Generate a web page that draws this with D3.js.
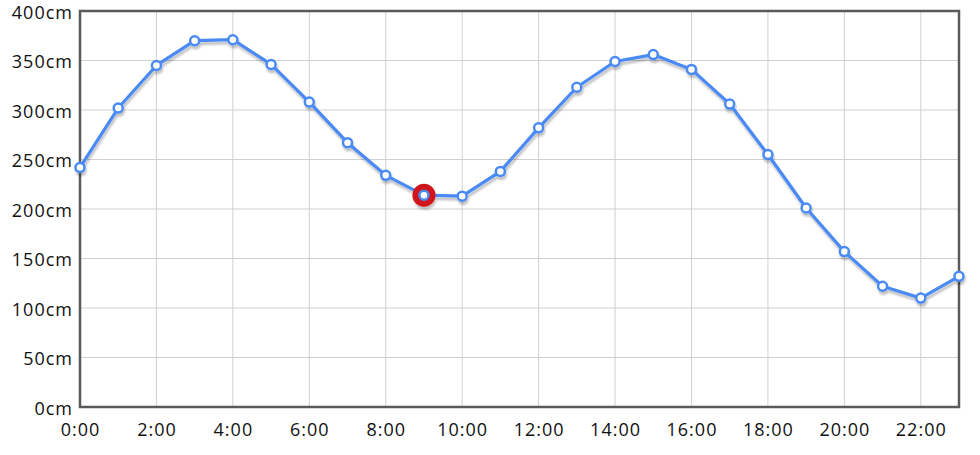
<!DOCTYPE html>
<html><head><meta charset="utf-8">
<script src="https://cdn.jsdelivr.net/npm/d3@7"></script>
<style>
html,body{margin:0;padding:0;background:#fff;}
svg{display:block;font-family:"Open Sans","Noto Sans",sans-serif;}
</style></head>
<body>
<svg id="chart" width="980" height="455"></svg>
<script>
const hours = [0,1,2,3,4,5,6,7,8,9,10,11,12,13,14,15,16,17,18,19,20,21,22,23];
const levels = [242,302,345,370,371,346,308,267,234,214,213,238,282,323,349,356,341,306,255,201,157,122,110,132];
const highlightHour = 9;
const yTicks = [0,50,100,150,200,250,300,350,400];
const xTicks = [0,2,4,6,8,10,12,14,16,18,20,22];

const svg = d3.select("#chart");
const m = {left:80, right:21, top:11, bottom:48};
const W = 980, H = 455;
const x = d3.scaleLinear().domain([0,23]).range([m.left, W-m.right]);
const y = d3.scaleLinear().domain([0,400]).range([H-m.bottom, m.top]);

const defs = svg.append("defs");
const f = defs.append("filter").attr("id","shadow").attr("x","-5%").attr("y","-10%").attr("width","110%").attr("height","130%");
f.append("feGaussianBlur").attr("in","SourceAlpha").attr("stdDeviation",1.2).attr("result","b");
f.append("feOffset").attr("in","b").attr("dx",1).attr("dy",3).attr("result","o");
f.append("feComponentTransfer").attr("in","o").attr("result","o2").append("feFuncA").attr("type","linear").attr("slope",0.25);
const mg = f.append("feMerge"); mg.append("feMergeNode").attr("in","o2"); mg.append("feMergeNode").attr("in","SourceGraphic");

// grid
svg.append("g").selectAll("line.h").data(yTicks).join("line")
  .attr("x1",m.left).attr("x2",W-m.right).attr("y1",d=>y(d)).attr("y2",d=>y(d))
  .attr("stroke","#d0d0d0").attr("stroke-width",1);
svg.append("g").selectAll("line.v").data(xTicks).join("line")
  .attr("y1",m.top).attr("y2",H-m.bottom).attr("x1",d=>x(d)).attr("x2",d=>x(d))
  .attr("stroke","#d0d0d0").attr("stroke-width",1);

// frame
svg.append("rect").attr("x",m.left).attr("y",m.top).attr("width",W-m.left-m.right).attr("height",H-m.top-m.bottom)
  .attr("fill","none").attr("stroke","#5a5a5a").attr("stroke-width",2.5);

// axes labels
const yAxis = d3.axisLeft(y).tickValues(yTicks).tickSize(0).tickPadding(7).tickFormat(d=>d+"cm");
const ga = svg.append("g").attr("transform",`translate(${m.left},1.5)`).call(yAxis);
ga.select(".domain").remove();
ga.selectAll("text").attr("font-size",18).attr("letter-spacing","1px").attr("fill","#111").attr("font-family","'Open Sans','Noto Sans',sans-serif");
const xAxis = d3.axisBottom(x).tickValues(xTicks).tickSize(0).tickPadding(16).tickFormat(d=>d+":00");
const gx = svg.append("g").attr("transform",`translate(0,${H-m.bottom})`).call(xAxis);
gx.select(".domain").remove();
gx.selectAll("text").attr("font-size",18).attr("letter-spacing","1px").attr("fill","#111").attr("font-family","'Open Sans','Noto Sans',sans-serif");

const data = hours.map((h,i)=>({h, v:levels[i]}));
const line = d3.line().x(d=>x(d.h)).y(d=>y(d.v));
const g = svg.append("g").attr("filter","url(#shadow)");
g.append("path").datum(data).attr("d",line).attr("fill","none").attr("stroke","#4a8af4").attr("stroke-width",3.2).attr("stroke-linejoin","round");

const hd = data.find(d=>d.h===highlightHour);
g.append("circle").attr("cx",x(hd.h)).attr("cy",y(hd.v)).attr("r",11.5).attr("fill","#d0151f");
g.selectAll("circle.pt").data(data).join("circle").attr("class","pt")
  .attr("cx",d=>x(d.h)).attr("cy",d=>y(d.v)).attr("r",4.5)
  .attr("fill","#fff").attr("stroke","#4a8af4").attr("stroke-width",2.5);
</script>
</body></html>
